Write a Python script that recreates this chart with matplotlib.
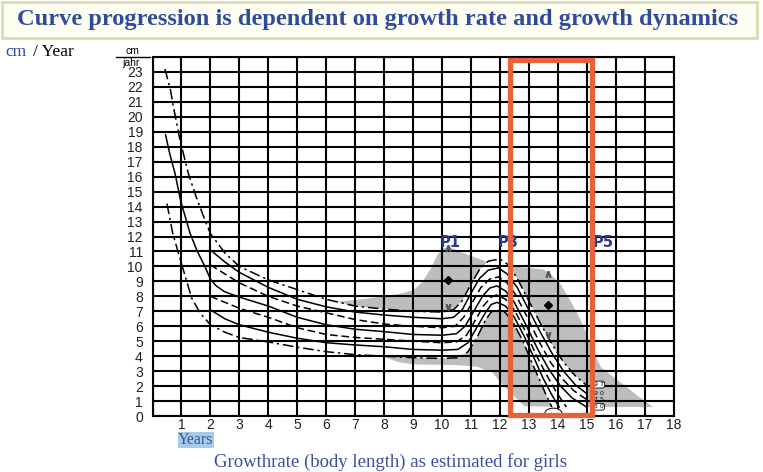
import matplotlib.pyplot as plt
from matplotlib.patches import Rectangle, Ellipse, Polygon

# percentile curves: age (years) / growth rate (cm per year)
p97_x = [0.43, 0.62, 0.72, 0.95, 1.24, 1.5, 1.81, 2.0, 2.5, 3.0, 4.0, 5.0, 6.0, 7.0, 8.0, 9.0, 10.0,
         10.4, 10.7, 11.0, 11.3, 11.6, 12.0, 12.3, 12.6, 13.0, 13.4, 13.8, 14.2, 14.6, 15.0]
p97_y = [23.2, 21.8, 20.7, 18.45, 16.2, 14.7, 13.1, 12.2, 10.9, 10.0, 9.1, 8.45, 7.8, 7.35, 7.15, 7.0, 6.95,
         7.1, 7.7, 8.8, 9.8, 10.35, 10.5, 10.1, 9.2, 7.7, 6.2, 4.8, 3.6, 2.7, 2.05]

p90_x = [2.0, 2.5, 3.0, 4.0, 5.0, 6.0, 7.0, 8.0, 9.0, 10.0, 10.4, 10.7, 11.0, 11.3, 11.6, 11.95,
         12.25, 12.6, 13.0, 13.4, 13.8, 14.2, 14.6, 15.0]
p90_y = [11.1, 10.3, 9.6, 8.6, 7.8, 7.3, 6.95, 6.75, 6.6, 6.5, 6.6, 7.1, 8.2, 9.2, 9.75, 9.9,
         9.5, 8.6, 7.1, 5.6, 4.2, 3.0, 2.1, 1.5]

p75_x = [2.0, 2.5, 3.0, 4.0, 5.0, 6.0, 7.0, 8.0, 9.0, 10.0, 10.45, 10.75, 11.05, 11.35, 11.65, 11.95,
         12.25, 12.55, 12.95, 13.35, 13.75, 14.15, 14.55, 15.0]
p75_y = [10.1, 9.5, 8.9, 8.0, 7.35, 6.9, 6.45, 6.15, 6.0, 5.9, 6.0, 6.6, 7.6, 8.6, 9.15, 9.3,
         8.9, 8.1, 6.6, 5.0, 3.6, 2.5, 1.7, 1.1]

p50_x = [0.45, 0.6, 0.78, 0.97, 1.3, 1.55, 1.81, 2.0, 2.2, 2.5, 3.0, 4.0, 5.0, 6.0, 7.0, 8.0, 9.0, 10.0,
         10.5, 10.8, 11.1, 11.4, 11.65, 11.9, 12.2, 12.5, 12.9, 13.3, 13.7, 14.1, 14.5, 15.0]
p50_y = [18.8, 17.5, 16.2, 14.4, 12.2, 11.0, 10.0, 9.15, 8.7, 8.3, 7.95, 7.35, 6.6, 6.1, 5.8, 5.64, 5.45, 5.4,
         5.5, 6.0, 7.0, 8.0, 8.55, 8.7, 8.35, 7.6, 6.1, 4.5, 3.1, 2.0, 1.2, 0.6]

p25_x = [2.0, 2.5, 3.0, 4.0, 5.0, 6.0, 7.0, 8.0, 9.0, 10.0, 10.5, 10.85, 11.15, 11.45, 11.7, 11.9,
         12.2, 12.5, 12.9, 13.25, 13.6, 13.95, 14.3]
p25_y = [8.0, 7.6, 7.2, 6.6, 5.9, 5.45, 5.25, 5.13, 5.0, 4.9, 4.95, 5.4, 6.4, 7.4, 7.95, 8.1,
         7.8, 7.1, 5.6, 4.1, 2.8, 1.6, 0.6]

p10_x = [2.0, 2.5, 3.0, 4.0, 5.0, 6.0, 7.0, 8.0, 9.0, 10.0, 10.55, 10.9, 11.2, 11.5, 11.7, 11.9,
         12.2, 12.5, 12.85, 13.2, 13.5, 13.8, 14.05]
p10_y = [7.1, 6.5, 6.1, 5.6, 5.2, 4.9, 4.75, 4.63, 4.45, 4.4, 4.45, 4.9, 5.9, 6.9, 7.45, 7.6,
         7.35, 6.6, 5.3, 3.8, 2.5, 1.4, 0.6]

p3_x = [0.5, 0.7, 1.0, 1.35, 1.64, 2.0, 2.5, 3.0, 4.0, 5.0, 6.0, 7.0, 8.0, 9.0, 10.0,
        10.6, 10.9, 11.2, 11.5, 11.7, 11.9, 12.2, 12.5, 12.8, 13.1, 13.4, 13.6, 13.8]
p3_y = [14.2, 12.2, 10.2, 7.9, 6.9, 6.1, 5.6, 5.25, 4.95, 4.6, 4.3, 4.1, 4.0, 3.9, 3.85,
        3.9, 4.3, 5.2, 6.4, 6.95, 7.1, 6.9, 6.1, 5.0, 3.6, 2.3, 1.4, 0.6]

# grey scatter band of peak growth
gray_x = [6.4, 7.0, 8.0, 8.5, 9.0, 9.3, 9.6, 9.85, 10.05, 10.25, 10.6, 11.0, 11.5, 12.0, 12.5, 13.0,
          13.5, 13.75, 14.1, 14.5, 14.75, 15.0, 15.25, 15.5, 16.0, 16.5, 17.0, 17.3,
          16.0, 14.5, 12.85, 12.4, 12.0, 11.75, 11.2, 10.5, 9.0, 8.5, 8.0]
gray_y = [7.65, 7.75, 8.0, 8.15, 8.4, 8.9, 9.8, 10.8, 11.2, 11.3, 11.0, 10.7, 10.35, 10.1, 10.0, 9.9,
          9.8, 9.5, 8.8, 7.5, 6.6, 5.5, 4.2, 3.25, 2.5, 1.75, 1.0, 0.6,
          0.6, 0.6, 0.65, 1.5, 2.3, 2.9, 3.3, 3.4, 3.45, 3.6, 3.95]

# P1 / P3 peak markers: (age, mean, upper, lower)
peak_x = [10.22, 13.67]
peak_mean = [9.1, 7.45]
peak_hi = [11.25, 9.5]
peak_lo = [7.3, 5.4]

phase_labels = ['P1', 'P3', 'P5']
phase_x = [10.28, 12.28, 15.58]

W, H = 763, 472
blue = '#2f4c9c'

fig = plt.figure(figsize=(W / 100, H / 100), dpi=100)
ax = fig.add_axes([152.5 / W, 1 - 416 / H, 521 / W, 359 / H])

ax.add_patch(Polygon(list(zip(gray_x, gray_y)), closed=True, fc='#bdbdbd', ec='none', zorder=1))
env = list(zip(p97_x, p97_y)) + [(p50_x[-1], p50_y[-1])] + list(zip(p3_x, p3_y))[::-1]
ax.add_patch(Polygon(env, closed=True, fc='white', ec='none', zorder=1.5))

dashdot = (0, (7, 2.5, 1.5, 2.5))
dashed = (0, (5, 2.5))
curves = [(p97_x, p97_y, dashdot), (p90_x, p90_y, '-'), (p75_x, p75_y, dashed),
          (p50_x, p50_y, '-'), (p25_x, p25_y, dashed), (p10_x, p10_y, '-'), (p3_x, p3_y, dashdot)]
for cx, cy, ls in curves:
    ax.plot(cx, cy, color='black', lw=1.1, ls=ls, zorder=3)

ax.plot(peak_x, peak_mean, 'D', color='black', ms=4, zorder=4)
ax.plot(peak_x, peak_hi, marker=r'$\wedge$', ls='none', color='#555555', ms=4, zorder=4)
ax.plot(peak_x, peak_lo, marker=r'$\vee$', ls='none', color='#555555', ms=4, zorder=4)

for lab, px in zip(phase_labels, phase_x):
    ax.text(px, 11.6, lab, ha='center', va='center', fontsize=10.5, fontweight='bold',
            color='#2b3a8a', family='DejaVu Sans', zorder=6)

# percentile tags at the curve ends
tag_font = dict(fontsize=4.5, ha='center', va='center', zorder=6, family='DejaVu Sans')
ax.text(15.42, 2.1, '9 7', bbox=dict(boxstyle='round,pad=0.15,rounding_size=0.4', fc='white', ec='black', lw=0.6), **tag_font)
ax.text(15.42, 1.5, '9 0', **tag_font)
ax.text(15.42, 1.1, '7 5', **tag_font)
ax.text(15.42, 0.62, '5 0', bbox=dict(boxstyle='round,pad=0.15,rounding_size=0.4', fc='white', ec='black', lw=0.6), **tag_font)
ax.add_patch(Ellipse((13.85, 0.15), 0.6, 0.75, fc='white', ec='black', lw=0.7, zorder=4))

ax.add_patch(Rectangle((12.35, 0.05), 2.82, 23.75, fill=False, ec='#e8603c', lw=3.8,
                       zorder=10, clip_on=False))

ax.set_xlim(0, 18)
ax.set_ylim(0, 24)
ax.set_xticks(range(19))
ax.set_yticks(range(25))
ax.set_xticklabels([''] + [str(i) for i in range(1, 19)])
ax.set_yticklabels([str(i) for i in range(24)] + [''])
ax.tick_params(length=0, labelsize=10, labelcolor='#222222', labelfontfamily='Liberation Sans')
ax.tick_params(axis='y', pad=7)
ax.tick_params(axis='x', pad=1.5)
ax.grid(True, color='black', lw=1.5, zorder=2)
ax.set_axisbelow(False)
for s in ax.spines.values():
    s.set_linewidth(1.5)

# header box
fig.patches.append(Rectangle((2 / W, 1 - 38 / H), 755 / W, 36 / H, transform=fig.transFigure,
                             fc='#fdfdf2', ec='#dcdcb4', lw=2))
fig.text(378 / W, 1 - 20 / H, 'Curve progression is dependent on growth rate and growth dynamics',
         ha='center', va='center', fontsize=17.6, fontweight='bold', color=blue, family='Liberation Serif')

fig.text(5 / W, 1 - 52 / H, 'cm', ha='left', va='center', fontsize=12.5, color=blue, family='Liberation Serif')
fig.text(33 / W, 1 - 52 / H, '/ Year', ha='left', va='center', fontsize=12.5, color='black', family='Liberation Serif')

fig.text(132 / W, 1 - 51 / H, 'cm', ha='center', va='center', fontsize=7.5, family='Liberation Sans')
fig.text(131 / W, 1 - 63 / H, 'jahr', ha='center', va='center', fontsize=7.5, family='Liberation Sans')
fig.add_artist(plt.Line2D([116 / W, 150 / W], [1 - 57 / H, 1 - 57 / H], color='black', lw=1))

fig.text(196 / W, 1 - 440 / H, 'Years', ha='center', va='center', fontsize=11.5, color='#3356a0',
         family='Liberation Serif', bbox=dict(fc='#a9cbe8', ec='none', pad=0.2))
fig.text(390 / W, 1 - 462 / H, 'Growthrate (body length) as estimated for girls', ha='center', va='center',
         fontsize=13.5, color='#3a4fa0', family='Liberation Serif')

fig.savefig('out.png', dpi=100)
